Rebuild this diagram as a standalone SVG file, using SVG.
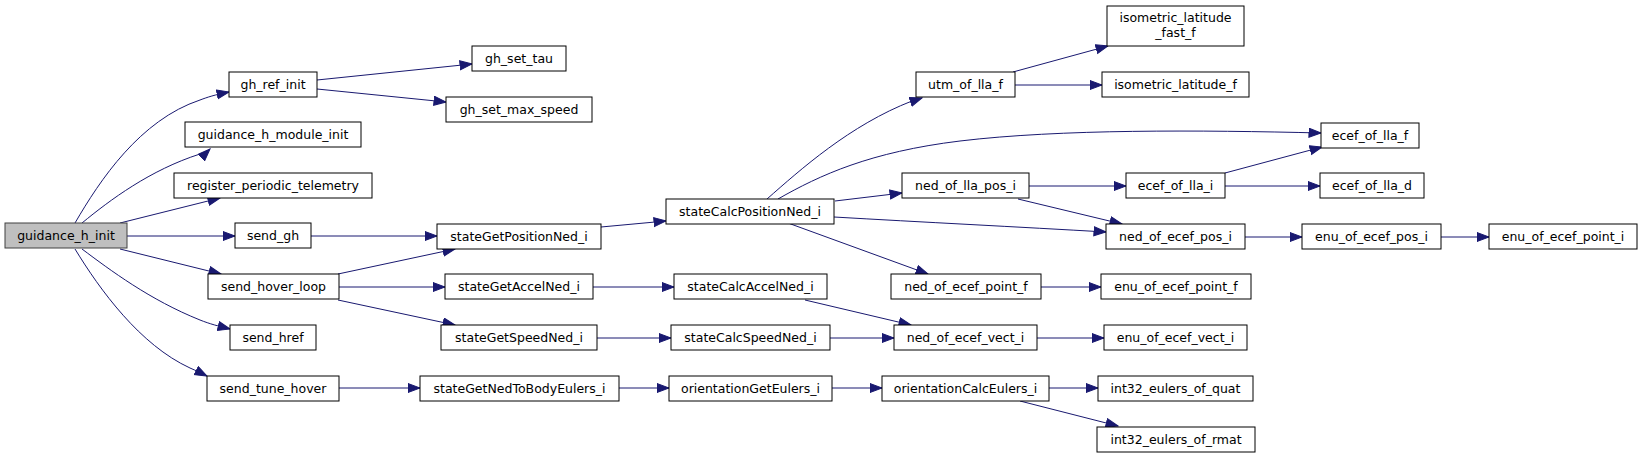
<svg xmlns="http://www.w3.org/2000/svg" width="1643" height="458" viewBox="0 0 1643 458">
<style>
.n rect{fill:#ffffff;stroke:#000000;stroke-width:1}
.n.root rect{fill:#bfbfbf;stroke:#404040}
.n text{font-family:"DejaVu Sans",sans-serif;font-size:12.5px;fill:#000000;text-anchor:middle}
.e path{fill:none;stroke:#191970;stroke-width:1;marker-end:url(#ah)}
</style>
<defs>
<marker id="ah" markerUnits="userSpaceOnUse" markerWidth="14" markerHeight="11" refX="12.5" refY="5" orient="auto">
<path d="M0.5,0.5 L12.5,5 L0.5,9.5 z" fill="#191970" stroke="#191970" stroke-width="1"/>
</marker>
</defs>
<rect width="1643" height="458" fill="#ffffff"/>
<g id="edges" class="e">
<path d="M75,223 C100,180 140,120 200,100 C208,97 214,95 229,92"/>
<path d="M82,223 C110,200 150,170 200,154 C205,152 208,151 210,149"/>
<path d="M120,223 L220,198"/>
<path d="M127,236 L235,236"/>
<path d="M120,249 L221,274"/>
<path d="M82,249 C110,270 150,300 200,320 C210,324 218,326 230,329"/>
<path d="M75,249 C100,290 140,345 190,368 C197,371 201,373 207,376"/>
<path d="M317,80 L472,64"/>
<path d="M317,89 L446,102"/>
<path d="M311,236 L437,236"/>
<path d="M338,274 L455,249"/>
<path d="M339,287 L445,287"/>
<path d="M338,300 L455,325"/>
<path d="M339,388 L420,388"/>
<path d="M601,227 L666,221"/>
<path d="M593,287 L674,287"/>
<path d="M597,338 L671,338"/>
<path d="M619,388 L669,388"/>
<path d="M832,388 L882,388"/>
<path d="M1049,388 L1098,388"/>
<path d="M1020,401 L1118,426"/>
<path d="M805,300 L911,325"/>
<path d="M830,338 L894,338"/>
<path d="M1037,338 L1104,338"/>
<path d="M1041,287 L1101,287"/>
<path d="M767,199 C800,170 850,125 912,101 C916,100 919,99 922,98"/>
<path d="M778,199 C820,175 870,152 960,141 C1060,129 1200,130 1321,133"/>
<path d="M835,201 L902,193"/>
<path d="M834,217 C920,222 1020,227 1106,232"/>
<path d="M788,223 L928,274"/>
<path d="M1029,186 L1126,186"/>
<path d="M1018,199 L1122,224"/>
<path d="M1225,173 L1322,147"/>
<path d="M1225,186 L1320,186"/>
<path d="M1245,237 L1302,237"/>
<path d="M1441,237 L1489,237"/>
<path d="M1013,72 L1108,46"/>
<path d="M1015,85 L1102,85"/>
</g>
<g id="guidance_h_init" class="n root"><rect x="5" y="223" width="122" height="25"/><text x="66" y="240">guidance_h_init</text></g>
<g id="gh_ref_init" class="n"><rect x="229" y="72" width="88" height="25"/><text x="273" y="89">gh_ref_init</text></g>
<g id="guidance_h_module_init" class="n"><rect x="185" y="122" width="176" height="25"/><text x="273" y="139">guidance_h_module_init</text></g>
<g id="register_periodic_telemetry" class="n"><rect x="174" y="173" width="198" height="25"/><text x="273" y="190">register_periodic_telemetry</text></g>
<g id="send_gh" class="n"><rect x="235" y="223" width="76" height="25"/><text x="273" y="240">send_gh</text></g>
<g id="send_hover_loop" class="n"><rect x="208" y="274" width="131" height="25"/><text x="273.5" y="291">send_hover_loop</text></g>
<g id="send_href" class="n"><rect x="230" y="325" width="86" height="25"/><text x="273" y="342">send_href</text></g>
<g id="send_tune_hover" class="n"><rect x="207" y="376" width="132" height="25"/><text x="273" y="393">send_tune_hover</text></g>
<g id="gh_set_tau" class="n"><rect x="472" y="46" width="94" height="25"/><text x="519" y="63">gh_set_tau</text></g>
<g id="gh_set_max_speed" class="n"><rect x="446" y="97" width="146" height="25"/><text x="519" y="114">gh_set_max_speed</text></g>
<g id="stateGetPositionNed_i" class="n"><rect x="437" y="224" width="164" height="25"/><text x="519" y="241">stateGetPositionNed_i</text></g>
<g id="stateGetAccelNed_i" class="n"><rect x="445" y="274" width="148" height="25"/><text x="519" y="291">stateGetAccelNed_i</text></g>
<g id="stateGetSpeedNed_i" class="n"><rect x="441" y="325" width="156" height="25"/><text x="519" y="342">stateGetSpeedNed_i</text></g>
<g id="stateGetNedToBodyEulers_i" class="n"><rect x="420" y="376" width="199" height="25"/><text x="519.5" y="393">stateGetNedToBodyEulers_i</text></g>
<g id="stateCalcPositionNed_i" class="n"><rect x="666" y="199" width="168" height="25"/><text x="750" y="216">stateCalcPositionNed_i</text></g>
<g id="stateCalcAccelNed_i" class="n"><rect x="674" y="274" width="153" height="25"/><text x="750.5" y="291">stateCalcAccelNed_i</text></g>
<g id="stateCalcSpeedNed_i" class="n"><rect x="671" y="325" width="159" height="25"/><text x="750.5" y="342">stateCalcSpeedNed_i</text></g>
<g id="orientationGetEulers_i" class="n"><rect x="669" y="376" width="163" height="25"/><text x="750.5" y="393">orientationGetEulers_i</text></g>
<g id="utm_of_lla_f" class="n"><rect x="916" y="72" width="99" height="25"/><text x="965.5" y="89">utm_of_lla_f</text></g>
<g id="ned_of_lla_pos_i" class="n"><rect x="902" y="173" width="127" height="25"/><text x="965.5" y="190">ned_of_lla_pos_i</text></g>
<g id="ned_of_ecef_point_f" class="n"><rect x="891" y="274" width="150" height="25"/><text x="966" y="291">ned_of_ecef_point_f</text></g>
<g id="ned_of_ecef_vect_i" class="n"><rect x="894" y="325" width="143" height="25"/><text x="965.5" y="342">ned_of_ecef_vect_i</text></g>
<g id="orientationCalcEulers_i" class="n"><rect x="882" y="376" width="167" height="25"/><text x="965.5" y="393">orientationCalcEulers_i</text></g>
<g id="isometric_latitude_fast_f" class="n"><rect x="1107" y="6" width="137" height="40"/><text x="1175.5" y="22">isometric_latitude</text><text x="1175.5" y="37">_fast_f</text></g>
<g id="isometric_latitude_f" class="n"><rect x="1102" y="72" width="147" height="25"/><text x="1175.5" y="89">isometric_latitude_f</text></g>
<g id="ecef_of_lla_f" class="n"><rect x="1321" y="123" width="98" height="25"/><text x="1370" y="140">ecef_of_lla_f</text></g>
<g id="ecef_of_lla_i" class="n"><rect x="1126" y="173" width="99" height="25"/><text x="1175.5" y="190">ecef_of_lla_i</text></g>
<g id="ecef_of_lla_d" class="n"><rect x="1320" y="173" width="104" height="25"/><text x="1372" y="190">ecef_of_lla_d</text></g>
<g id="ned_of_ecef_pos_i" class="n"><rect x="1106" y="224" width="139" height="25"/><text x="1175.5" y="241">ned_of_ecef_pos_i</text></g>
<g id="enu_of_ecef_point_f" class="n"><rect x="1101" y="274" width="150" height="25"/><text x="1176" y="291">enu_of_ecef_point_f</text></g>
<g id="enu_of_ecef_vect_i" class="n"><rect x="1104" y="325" width="143" height="25"/><text x="1175.5" y="342">enu_of_ecef_vect_i</text></g>
<g id="int32_eulers_of_quat" class="n"><rect x="1098" y="376" width="155" height="25"/><text x="1175.5" y="393">int32_eulers_of_quat</text></g>
<g id="int32_eulers_of_rmat" class="n"><rect x="1097" y="427" width="158" height="25"/><text x="1176" y="444">int32_eulers_of_rmat</text></g>
<g id="enu_of_ecef_pos_i" class="n"><rect x="1302" y="224" width="139" height="25"/><text x="1371.5" y="241">enu_of_ecef_pos_i</text></g>
<g id="enu_of_ecef_point_i" class="n"><rect x="1489" y="224" width="148" height="25"/><text x="1563" y="241">enu_of_ecef_point_i</text></g>
</svg>
